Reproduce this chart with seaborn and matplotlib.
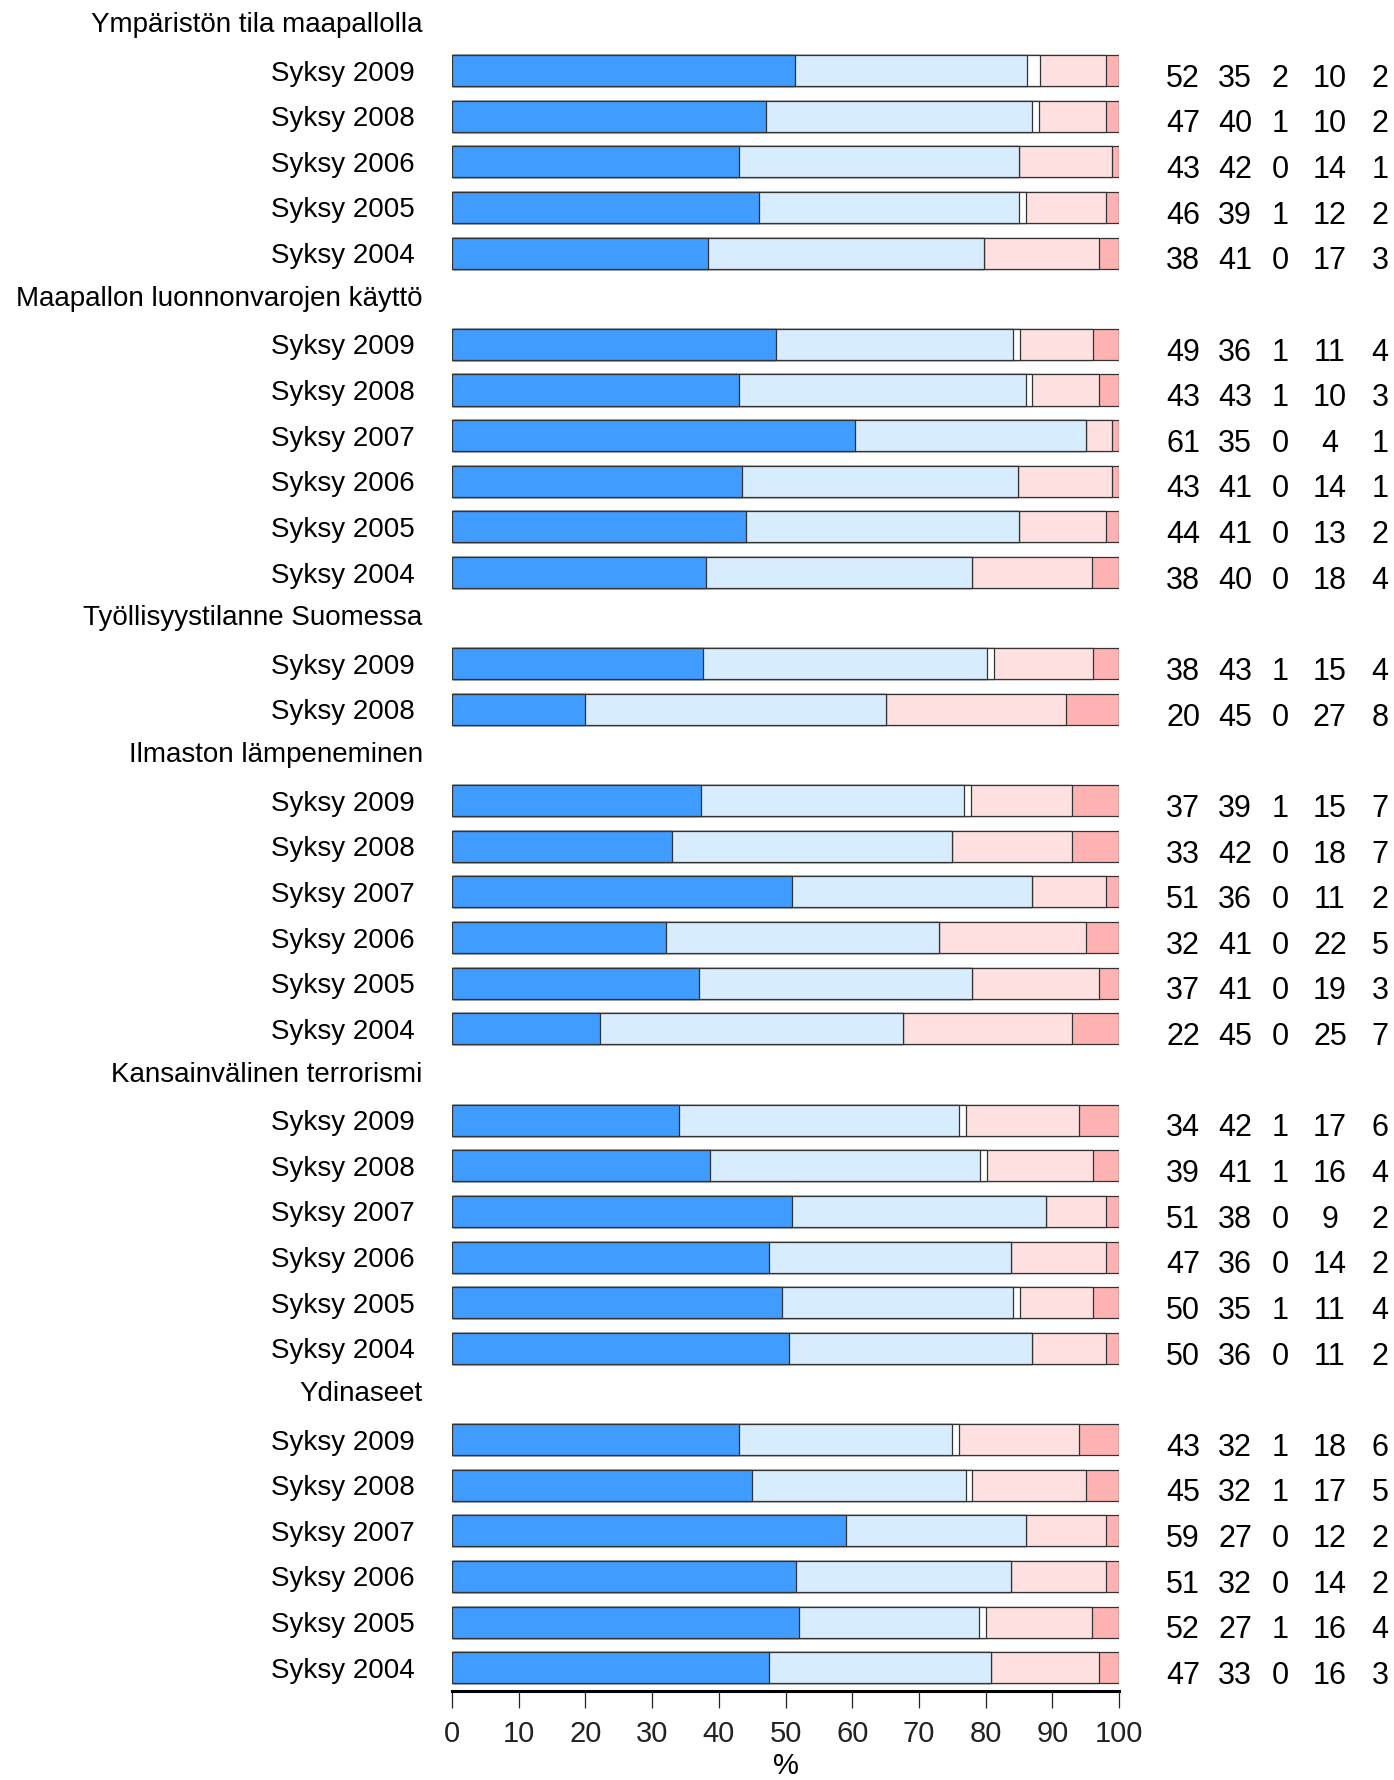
import pandas as pd
import numpy as np
import matplotlib
matplotlib.use("Agg")
import matplotlib.pyplot as plt
import seaborn as sns

# Group titles and the autumns surveyed in each group
groups = ["Ympäristön tila maapallolla", "Maapallon luonnonvarojen käyttö",
          "Työllisyystilanne Suomessa", "Ilmaston lämpeneminen",
          "Kansainvälinen terrorismi", "Ydinaseet"]
group_years = [
    ["Syksy 2009", "Syksy 2008", "Syksy 2006", "Syksy 2005", "Syksy 2004"],
    ["Syksy 2009", "Syksy 2008", "Syksy 2007", "Syksy 2006", "Syksy 2005", "Syksy 2004"],
    ["Syksy 2009", "Syksy 2008"],
    ["Syksy 2009", "Syksy 2008", "Syksy 2007", "Syksy 2006", "Syksy 2005", "Syksy 2004"],
    ["Syksy 2009", "Syksy 2008", "Syksy 2007", "Syksy 2006", "Syksy 2005", "Syksy 2004"],
    ["Syksy 2009", "Syksy 2008", "Syksy 2007", "Syksy 2006", "Syksy 2005", "Syksy 2004"],
]

# Answer shares (%), one list per answer category, rows in drawing order
share_1 = [52, 47, 43, 46, 38,
           49, 43, 61, 43, 44, 38,
           38, 20,
           37, 33, 51, 32, 37, 22,
           34, 39, 51, 47, 50, 50,
           43, 45, 59, 51, 52, 47]
share_2 = [35, 40, 42, 39, 41,
           36, 43, 35, 41, 41, 40,
           43, 45,
           39, 42, 36, 41, 41, 45,
           42, 41, 38, 36, 35, 36,
           32, 32, 27, 32, 27, 33]
share_3 = [2, 1, 0, 1, 0,
           1, 1, 0, 0, 0, 0,
           1, 0,
           1, 0, 0, 0, 0, 0,
           1, 1, 0, 0, 1, 0,
           1, 1, 0, 0, 1, 0]
share_4 = [10, 10, 14, 12, 17,
           11, 10, 4, 14, 13, 18,
           15, 27,
           15, 18, 11, 22, 19, 25,
           17, 16, 9, 14, 11, 11,
           18, 17, 12, 14, 16, 16]
share_5 = [2, 2, 1, 2, 3,
           4, 3, 1, 1, 2, 4,
           4, 8,
           7, 7, 2, 5, 3, 7,
           6, 4, 2, 2, 4, 2,
           6, 5, 2, 2, 4, 3]

colors = ["#409CFF", "#D8ECFF", "#FFFFFF", "#FFE0E0", "#FFB2B2"]

# build row table: header rows get no bar
keys, labels, headers = [], [], []
i = 0
for g, years in zip(groups, group_years):
    keys.append(f"h_{g}")
    labels.append("")
    headers.append((len(keys) - 1, g))
    for y in years:
        keys.append(f"{g}_{y}_{i}")
        labels.append(y)
        i += 1

shares = np.array([share_1, share_2, share_3, share_4, share_5], dtype=float).T
bar_keys = [k for k in keys if not k.startswith("h_")]
cols = ["s1", "s2", "s3", "s4", "s5"]
df = pd.DataFrame(shares, columns=cols)
df["row"] = bar_keys
norm = df[cols].div(df[cols].sum(axis=1), axis=0) * 100
cum = norm.cumsum(axis=1)

plt.rcParams['font.family'] = ['Liberation Sans', 'DejaVu Sans']
fig = plt.figure(figsize=(13.94, 17.80), dpi=100)
ax = fig.add_axes([0.3243, 0.05, 0.4785, 0.9488])

# stacked bars: draw cumulative totals from the longest down
for j in range(4, -1, -1):
    d = pd.DataFrame({"row": bar_keys, "val": cum.iloc[:, j].values})
    sns.barplot(data=d, x="val", y="row", order=keys, orient="h",
                color=colors[j], saturation=1, width=0.68,
                edgecolor="#333333", linewidth=0.9, ax=ax)

ax.set_xlim(0, 100)
ax.set_ylim(36.51, -0.5)
ax.set_yticks(range(len(keys)))
ax.set_yticklabels(labels, fontsize=20)
ax.tick_params(axis="y", length=0, pad=27)

for pos, g in headers:
    ax.text(-4.4, pos, g, ha="right", va="center", fontsize=20)

# value columns on the right
col_x = [109.6, 117.4, 124.1, 131.6, 139.1]
bar_rows = [n for n, k in enumerate(keys) if not k.startswith("h_")]
for r, row_vals in zip(bar_rows, shares):
    for cx, v in zip(col_x, row_vals):
        ax.text(cx, r + 0.18, f"{int(v)}", ha="center", va="center",
                fontsize=22, clip_on=False)

ax.set_xticks(range(0, 101, 10))
ax.tick_params(axis="x", length=12, width=0.9, pad=9, labelsize=21,
               colors="#222222")
ax.set_xlabel("%", fontsize=21, labelpad=3)
ax.set_ylabel("")
for s in ["top", "right", "left"]:
    ax.spines[s].set_visible(False)
ax.spines["bottom"].set_linewidth(2.2)

fig.savefig("out.png", dpi=100)
